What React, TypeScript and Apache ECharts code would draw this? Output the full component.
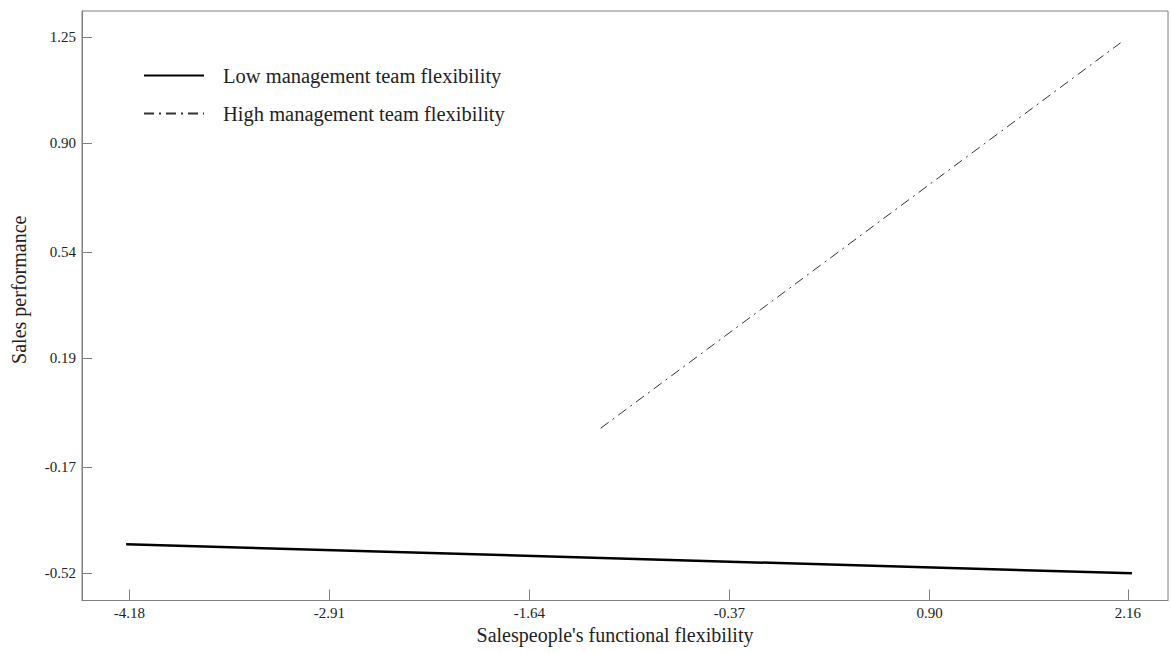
import React, { useEffect, useRef } from "react";
import * as echarts from "echarts";

const xTicks = [-4.18, -2.91, -1.64, -0.37, 0.9, 2.16];
const yTicks = [-0.52, -0.17, 0.19, 0.54, 0.9, 1.25];
const lowX = [-4.2, 2.185];
const lowY = [-0.425, -0.521];
const highX = [-1.188, 2.113];
const highY = [-0.042, 1.232];
const seriesNames = ["Low management team flexibility", "High management team flexibility"];
const xTitle = "Salespeople's functional flexibility";
const yTitle = "Sales performance";

const FONT = "'Liberation Serif', 'Times New Roman', serif";

export default function App() {
  const ref = useRef<HTMLDivElement>(null);
  useEffect(() => {
    if (!ref.current) return;
    const chart = echarts.init(ref.current, undefined, { renderer: "svg" });
    const axisColor = "#808080";
    chart.setOption({
      animation: false,
      backgroundColor: "#ffffff",
      textStyle: { fontFamily: FONT },
      grid: {
        left: 82,
        top: 11,
        right: 3,
        bottom: 52.5,
        show: true,
        borderColor: axisColor,
        borderWidth: 1,
      },
      legend: {
        orient: "vertical",
        left: 143,
        top: 65,
        padding: 0,
        itemWidth: 60,
        itemHeight: 14,
        itemGap: 17,
        itemStyle: { opacity: 0 },
        textStyle: {
          fontFamily: FONT,
          fontSize: 20.5,
          color: "#222",
          lineHeight: 20,
          padding: [0, 0, 0, 14],
        },
        data: seriesNames,
      },
      xAxis: {
        type: "value",
        min: -4.48,
        max: 2.414,
        splitLine: { show: false },
        axisLine: { show: true, onZero: false, lineStyle: { color: axisColor, width: 1 } },
        axisTick: {
          show: true,
          inside: true,
          length: 11,
          customValues: xTicks,
          lineStyle: { color: axisColor },
        },
        axisLabel: {
          customValues: xTicks,
          margin: 5,
          fontFamily: FONT,
          fontSize: 15,
          color: "#222",
          formatter: (v: number) => v.toFixed(2),
        },
        name: xTitle,
        nameLocation: "middle",
        nameGap: 20,
        nameTextStyle: {
          fontFamily: FONT,
          fontSize: 20,
          color: "#222",
          padding: [0, 20, 0, 0],
        },
      },
      yAxis: {
        type: "value",
        min: -0.611,
        max: 1.337,
        splitLine: { show: false },
        axisLine: { show: true, onZero: false, lineStyle: { color: axisColor, width: 1 } },
        axisTick: {
          show: true,
          inside: true,
          length: 10,
          customValues: yTicks,
          lineStyle: { color: axisColor },
        },
        axisLabel: {
          customValues: yTicks,
          margin: 6,
          fontFamily: FONT,
          fontSize: 15,
          color: "#222",
          formatter: (v: number) => v.toFixed(2),
        },
        name: yTitle,
        nameLocation: "middle",
        nameGap: 53,
        nameRotate: 90,
        nameTextStyle: {
          fontFamily: FONT,
          fontSize: 20,
          color: "#222",
          padding: [0, 0, 0, 32],
        },
      },
      series: [
        {
          name: seriesNames[0],
          type: "line",
          symbol: "none",
          data: lowX.map((x, i) => [x, lowY[i]]),
          lineStyle: { color: "#000", width: 2.5, type: "solid" },
          itemStyle: { color: "#000" },
        },
        {
          name: seriesNames[1],
          type: "line",
          symbol: "none",
          data: highX.map((x, i) => [x, highY[i]]),
          lineStyle: { color: "#333", width: 1, type: [10, 5, 2, 5] },
          itemStyle: { color: "#333" },
        },
      ],
    });
    return () => chart.dispose();
  }, []);
  return (
    <div
      ref={ref}
      style={{ position: "absolute", left: 0, top: 0, width: 1171, height: 653 }}
    />
  );
}
